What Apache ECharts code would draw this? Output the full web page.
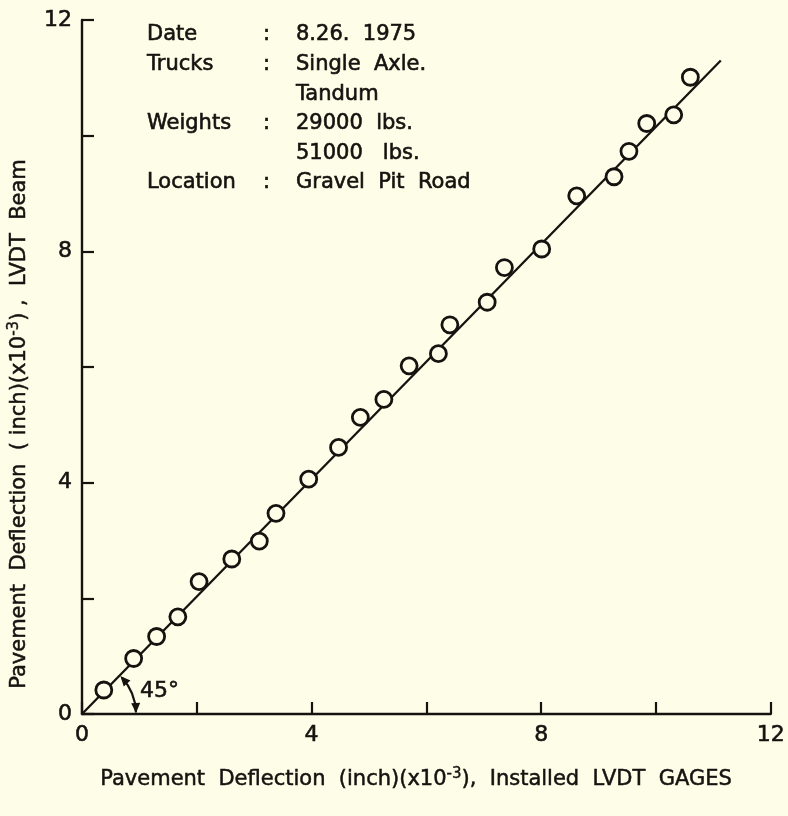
<!DOCTYPE html>
<html>
<head>
<meta charset="utf-8">
<script src="https://cdn.jsdelivr.net/npm/echarts@6/dist/echarts.min.js"></script>
<style>
html,body{margin:0;padding:0;background:#fefde7;}
#chart{width:788px;height:816px;}
</style>
</head>
<body>
<div id="chart"></div>
<script>
// Measured points: [installed LVDT gage deflection, LVDT beam deflection] (x10^-3 inch)
const gageValues = [0.38,0.90,1.30,1.67,2.04,2.61,3.09,3.38,3.95,4.47,4.85,5.26,5.70,6.21,6.41,7.06,7.36,8.01,8.62,9.27,9.53,9.84,10.31,10.60];
const beamValues = [0.415,0.96,1.34,1.68,2.29,2.68,2.99,3.47,4.06,4.61,5.13,5.44,6.02,6.23,6.73,7.12,7.72,8.04,8.96,9.29,9.73,10.21,10.36,11.01];
// 45 degree reference line end points
const lineX = [0, 11.13];
const lineY = [0, 11.30];
const xTicks = [0, 4, 8, 12];
const yTicks = [0, 4, 8, 12];
const infoLabels = ['Date', 'Trucks', '', 'Weights', '', 'Location'];
const infoColons = [':', ':', '', ':', '', ':'];
const infoValues = ['8.26.  1975', 'Single  Axle.', 'Tandum', '29000  lbs.', '51000   lbs.', 'Gravel  Pit  Road'];

const ink = '#161210';
const bg = '#fefde7';
const font = 'DejaVu Sans';

const chart = echarts.init(document.getElementById('chart'));
const points = gageValues.map((x, i) => [x, beamValues[i]]);
const linePts = lineX.map((x, i) => [x, lineY[i]]);

function txt(x, y, t, size, extra) {
  return Object.assign({type: 'text', x: x, y: y, z: 10,
    style: {text: t, font: size + 'px "' + font + '"', fill: ink, stroke: ink, lineWidth: 0.6,
            verticalAlign: 'middle', align: 'left'}}, extra || {});
}

const info = [];
const rowY0 = 35, rowStep = 29.6;
infoLabels.forEach((t, i) => {
  const y = rowY0 + i * rowStep;
  if (t) info.push(txt(147, y, t, 21));
  if (infoColons[i]) info.push(txt(263, y, infoColons[i], 21));
  info.push(txt(296, y, infoValues[i], 21));
});

const richName = {
  a: {fontFamily: font, fontSize: 21, fill: ink, stroke: ink, lineWidth: 0.5},
  s: {fontFamily: font, fontSize: 15, fill: ink, stroke: ink, lineWidth: 0.4, padding: [0, 0, 11, 0]}
};
const xTitle = '{a|Pavement  Deflection  (inch)(x10}{s|-3}{a|),  Installed  LVDT  GAGES}';
const yTitle = '{a|Pavement  Deflection  ( inch)(x10}{s|-3}{a|) ,  LVDT  Beam}';

const labelStyle = {margin: 10, fontFamily: font, fontSize: 22, color: ink,
  textBorderColor: ink, textBorderWidth: 0.6};

chart.setOption({
  backgroundColor: bg,
  animation: false,
  grid: {left: 82, right: 15, top: 20, bottom: 102},
  xAxis: {
    type: 'value', min: 0, max: 12, interval: 2,
    splitLine: {show: false},
    axisLine: {lineStyle: {color: ink, width: 2.4}},
    axisTick: {inside: true, length: 12, lineStyle: {color: ink, width: 2.2}},
    axisLabel: Object.assign({formatter: v => xTicks.indexOf(v) >= 0 ? String(v) : ''}, labelStyle)
  },
  yAxis: {
    type: 'value', min: 0, max: 12, interval: 2,
    splitLine: {show: false},
    axisLine: {lineStyle: {color: ink, width: 2.4}},
    axisTick: {inside: true, length: 12, lineStyle: {color: ink, width: 2.2}},
    axisLabel: Object.assign({formatter: v => yTicks.indexOf(v) >= 0 ? String(v) : ''}, labelStyle)
  },
  series: [
    {
      type: 'line', data: linePts, symbol: 'none', silent: true,
      lineStyle: {color: ink, width: 2.3}, z: 2
    },
    {
      type: 'scatter', data: points, symbol: 'circle', symbolSize: 16,
      itemStyle: {color: bg, borderColor: ink, borderWidth: 2.8, opacity: 1}, z: 3
    }
  ],
  graphic: info
});

// 45 degree angle annotation anchored at the data origin
const o = chart.convertToPixel({gridIndex: 0}, [0, 0]);
const r = 54;
const a1 = -Math.PI / 4 + 0.05, a2 = -0.03;
function arrow(tip, dir) {
  const L = 10, W = 4.5;
  const bx = tip[0] - dir[0] * L, by = tip[1] - dir[1] * L;
  const nx = -dir[1], ny = dir[0];
  return [[tip[0], tip[1]], [bx + nx * W, by + ny * W], [bx - nx * W, by - ny * W]];
}
const d1 = [Math.sin(a1), -Math.cos(a1)];
const d2 = [-Math.sin(a2), Math.cos(a2)];
const tip1 = [o[0] + r * Math.cos(-Math.PI/4 + 0.005), o[1] + r * Math.sin(-Math.PI/4 + 0.005)];
const tip2 = [o[0] + r, o[1] - 1];
const xMid = chart.convertToPixel({gridIndex: 0}, [0, 0]);
chart.setOption({
  graphic: info.concat([
    {type: 'arc', shape: {cx: o[0], cy: o[1], r: r, startAngle: a1, endAngle: a2},
     style: {stroke: ink, lineWidth: 2.2, fill: null}, z: 10},
    {type: 'polygon', shape: {points: arrow(tip1, d1)}, style: {fill: ink}, z: 10},
    {type: 'polygon', shape: {points: arrow(tip2, d2)}, style: {fill: ink}, z: 10},
    txt(o[0] + 58, o[1] - 23, '45°', 22),
    {type: 'text', x: 416, y: 780, z: 10,
     style: {text: xTitle, rich: richName, align: 'center', verticalAlign: 'middle'}},
    {type: 'text', x: 20, y: 424, rotation: Math.PI / 2, z: 10,
     style: {text: yTitle, rich: richName, align: 'center', verticalAlign: 'middle'}}
  ])
});
</script>
</body>
</html>
